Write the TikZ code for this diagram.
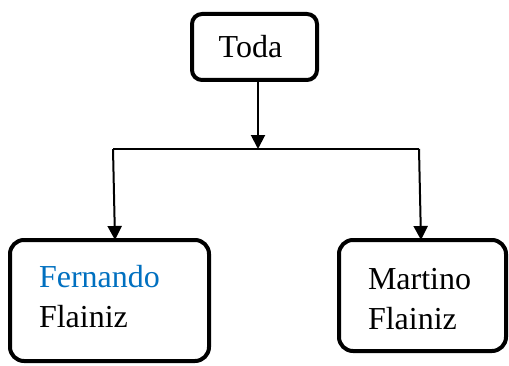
\documentclass[tikz,border=0pt]{standalone}
\usepackage{fontspec}
\setmainfont{Liberation Serif}
\usepackage{tikz}
\usetikzlibrary{arrows.meta, positioning, calc}
\definecolor{wordblue}{RGB}{0,112,192}

\begin{document}
\begin{tikzpicture}[
        x=1pt, y=1pt,
        font=\fontsize{32}{40}\selectfont,
        >={Triangle[width=14pt,length=14pt]},
        parent/.style={
            draw=black,
            line width=4pt,
            rounded corners=10pt,
            fill=white,
            minimum width=125pt,
            minimum height=66pt,
            align=center
        },
        child/.style={
            draw=black,
            line width=4pt,
            rounded corners=14pt,
            fill=white,
            align=left,
            inner xsep=0pt,
            inner ysep=0pt
        },
        line/.style={draw, line width=2pt, -},
        line_arrow/.style={draw, line width=2pt, ->}
    ]
    \useasboundingbox (0,0) rectangle (509,365);

    % Root
    \node[parent] (toda) at (254.5,318) {\hspace*{-8pt}Toda};

    % Children
    \node[child, minimum width=199pt, minimum height=121pt, text width=141pt] (fernando) at (109.5,64.5) {
        {\color{wordblue}Fernando}\\
        Flainiz\rule[-8pt]{0pt}{0pt}
    };
    \node[child, minimum width=167pt, minimum height=111pt, text width=109pt] (martino) at (422.5,69.5) {
        \rule{0pt}{28pt}Martino\\
        Flainiz
    };

    % Connectors
    \coordinate (split) at (258,216);
    \coordinate (lbar) at (113,216);
    \coordinate (rbar) at (419,216);
    \draw[line_arrow] (toda.south -| split) -- (split);
    \draw[line] (lbar) -- (rbar);
    \draw[line_arrow] (lbar) -- ($(lbar |- fernando.north)+(2,-2)$);
    \draw[line_arrow] (rbar) -- ($(rbar |- martino.north)+(2,-2)$);

\end{tikzpicture}
\end{document}
